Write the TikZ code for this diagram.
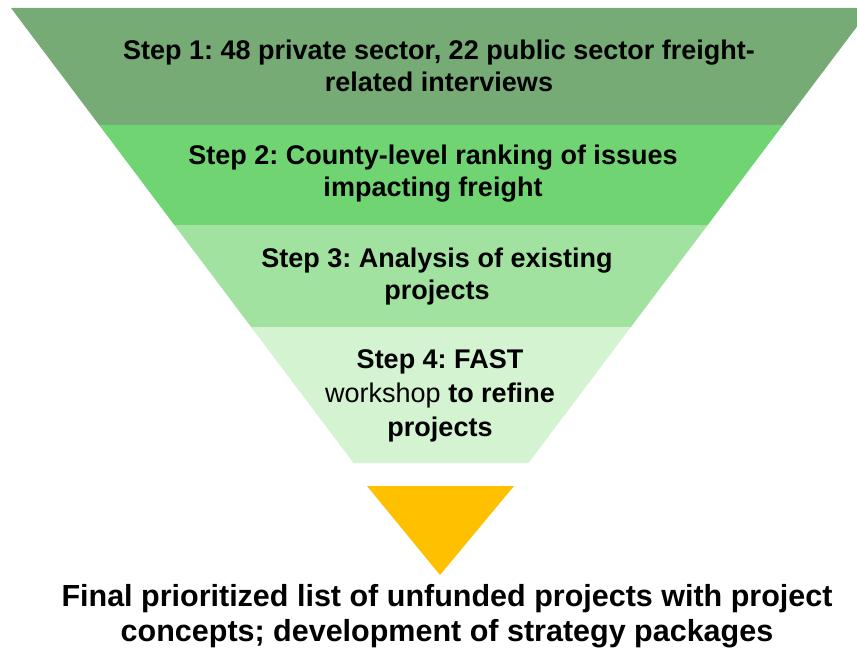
\documentclass[tikz,border=0pt]{standalone}
\usepackage{fontspec}
\setmainfont{Liberation Sans}
\usepackage{tikz}
\usetikzlibrary{positioning}
\usepackage{xcolor}
\definecolor{fnlgreen1}{RGB}{118,171,118}
\definecolor{fnlgreen2}{RGB}{112,212,115}
\definecolor{fnlgreen3}{RGB}{162,226,160}
\definecolor{fnlgreen4}{RGB}{212,243,209}
\definecolor{fnlyellow}{RGB}{255,192,0}
\tikzstyle{steptext} = [align=center, font=\fontsize{27}{32}\selectfont\bfseries\frenchspacing, inner sep=0pt]
\tikzstyle{finaltext} = [align=center, font=\fontsize{30.5}{35}\selectfont\bfseries\frenchspacing, inner sep=0pt]

\begin{document}
\begin{tikzpicture}[x=1pt,y=-1pt]
\useasboundingbox (0,0) rectangle (857,650);

% Funnel bands
\fill[fnlgreen1] (11,8) -- (871,8) -- (782.9,125) -- (99.1,125) -- cycle;
\fill[fnlgreen2] (99.1,125) -- (782.9,125) -- (707.7,225) -- (174.3,225) -- cycle;
\fill[fnlgreen3] (174.3,225) -- (707.7,225) -- (630.9,327) -- (251.1,327) -- cycle;
\fill[fnlgreen4] (251.1,327) -- (630.9,327) -- (528.5,463) -- (353.5,463) -- cycle;

% Step labels
\node[steptext] (step1) at (439,66) {Step 1: 48 private sector, 22 public sector freight-\\related interviews};
\node[steptext] (step2) at (433,174) {Step 2: County-level ranking of issues\\impacting freight};
\node[steptext] (step3) at (437,277) {Step 3: Analysis of existing\\projects};
\node[steptext, font=\fontsize{27}{34}\selectfont\bfseries\frenchspacing] (step4) at (440,396) {Step 4: FAST\\\textmd{workshop} to refine\\projects};

% Arrow head
\fill[fnlyellow] (367,486) -- (514,486) -- (440,575) -- cycle;

% Result
\node[finaltext] (final) at (447,616) {Final prioritized list of unfunded projects with project\\concepts; development of strategy packages};
\end{tikzpicture}
\end{document}
